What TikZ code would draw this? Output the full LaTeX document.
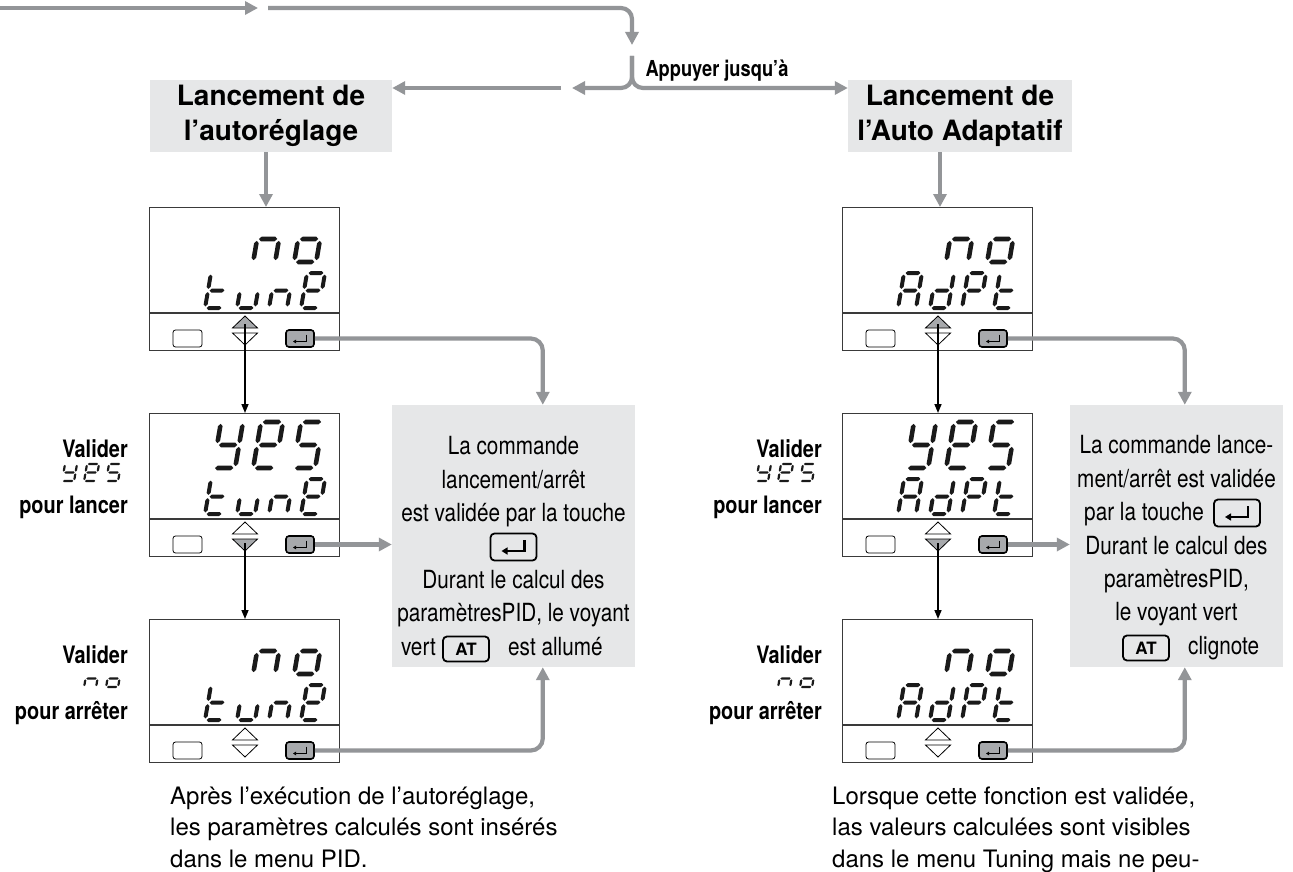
\documentclass[tikz,border=0pt]{standalone}
\usepackage{fontspec}
\setmainfont{TeX Gyre Heros}
\newfontfamily\condfont{TeX Gyre Heros}[FakeStretch=0.83]
\usetikzlibrary{arrows.meta}

\definecolor{arrowgray}{HTML}{939598}
\definecolor{panelgray}{HTML}{E6E7E8}
\definecolor{keygray}{HTML}{A7A9AC}
\definecolor{framegray}{HTML}{3A3A3A}
\definecolor{seggray}{HTML}{1A1A1A}

% seven-segment glyphs in a unit cell: x 0..1, y 0 (top) .. 1 (bottom)
\def\digN{0/0.5/1/0.5,0/0.5/0/1,1/0.5/1/1}
\def\digO{0/0.5/1/0.5,0/0.5/0/1,1/0.5/1/1,0/1/1/1}
\def\digT{0/0/0/0.5,0/0.5/0/1,0/0.5/1/0.5,0/1/1/1}
\def\digU{0/0.5/0/1,1/0.5/1/1,0/1/1/1}
\def\digE{0/0/1/0,1/0/1/0.5,0/0/0/0.5,0/0.5/1/0.5,0/0.5/0/1,0/1/1/1}
\def\digY{0/0/0/0.5,1/0/1/0.5,0/0.5/1/0.5,1/0.5/1/1,0/1/1/1}
\def\digS{0/0/1/0,0/0/0/0.5,0/0.5/1/0.5,1/0.5/1/1,0/1/1/1}
\def\digA{0/0/1/0,1/0/1/0.5,1/0.5/1/1,0/0/0/0.5,0/0.5/0/1,0/0.5/1/0.5}
\def\digD{1/0/1/0.5,1/0.5/1/1,0/1/1/1,0/0.5/0/1,0/0.5/1/0.5}
\def\digP{0/0/1/0,1/0/1/0.5,0/0/0/0.5,0/0.5/1/0.5,0/0.5/0/1}

% one slanted seven-segment character: left, top, width, height, thickness, glyph
% every segment is a hexagon with pointed ends
\newcommand{\sevenseg}[6]{%
  \begin{scope}[shift={(#1,#2)},xslant=0.17]
    \foreach \xa/\ya/\xb/\yb in #6 {
      \pgfmathsetmacro\pxa{\xa*#3}\pgfmathsetmacro\pya{\ya*#4}
      \pgfmathsetmacro\pxb{\xb*#3}\pgfmathsetmacro\pyb{\yb*#4}
      \pgfmathsetmacro\seglen{abs(\pxb-\pxa)+abs(\pyb-\pya)}
      \pgfmathsetmacro\ux{(\pxb-\pxa)/\seglen}
      \pgfmathsetmacro\uy{(\pyb-\pya)/\seglen}
      \pgfmathsetmacro\seghw{#5/2}
      \pgfmathsetmacro\seggap{#5*0.4}
      \fill[seggray]
        ({\pxa+\ux*\seggap},{\pya+\uy*\seggap})
        -- ({\pxa+\ux*(\seggap+\seghw)-\uy*\seghw},{\pya+\uy*(\seggap+\seghw)+\ux*\seghw})
        -- ({\pxb-\ux*(\seggap+\seghw)-\uy*\seghw},{\pyb-\uy*(\seggap+\seghw)+\ux*\seghw})
        -- ({\pxb-\ux*\seggap},{\pyb-\uy*\seggap})
        -- ({\pxb-\ux*(\seggap+\seghw)+\uy*\seghw},{\pyb-\uy*(\seggap+\seghw)-\ux*\seghw})
        -- ({\pxa+\ux*(\seggap+\seghw)+\uy*\seghw},{\pya+\uy*(\seggap+\seghw)-\ux*\seghw})
        -- cycle;
    }
  \end{scope}}

% controller front panel: name, left, top, up-key fill, down-key fill
\newcommand{\meterpanel}[5]{%
  \node[dispframe,anchor=north west] (#1) at (#2,#3) {};
  \draw[displine] (#2,#3+106) -- (#2+190,#3+106);
  \node[softkey] (#1-m) at (#2+38.5,#3+131.5) {};
  \node[enterkey] (#1-k) at (#2+151,#3+131.5) {};
  \draw[line width=1pt,-{Triangle[width=3.5pt,length=3pt]}]
    ([shift={(6,-4)}]#1-k.center) -- ([shift={(6,3)}]#1-k.center) -- ([shift={(-7,3)}]#1-k.center);
  \draw[arrowkey,fill=#4] (#2+83.5,#3+121) -- (#2+108.5,#3+121) -- (#2+96,#3+109) -- cycle;
  \draw[arrowkey,fill=#5] (#2+83.5,#3+126) -- (#2+108.5,#3+126) -- (#2+96,#3+138) -- cycle;
  \coordinate (#1-u) at (#2+96,#3+117);
  \coordinate (#1-d) at (#2+96,#3+130);
}

\tikzset{
  garrow/.style={draw=arrowgray,line width=4.2pt,-{Triangle[width=13pt,length=13pt]}},
  karrow/.style={draw=black,line width=1.5pt,-{Triangle[width=7pt,length=9pt]}},
  hdr/.style={fill=panelgray,align=center,inner sep=0,
    font=\fontsize{28}{35}\selectfont\bfseries},
  infobox/.style={fill=panelgray,inner sep=0},
  infotext/.style={font=\condfont\fontsize{25}{33}\selectfont,inner sep=0,anchor=base},
  sidelabel/.style={font=\condfont\bfseries\fontsize{24}{28}\selectfont,inner sep=0,anchor=base east},
  bodytext/.style={font=\fontsize{24}{31}\selectfont,inner sep=0,anchor=base west},
  dispframe/.style={draw=framegray,line width=1.2pt,minimum width=190pt,minimum height=143pt,inner sep=0},
  displine/.style={draw=framegray,line width=1.2pt},
  softkey/.style={draw=black,line width=0.8pt,rounded corners=2.5pt,fill=white,
    minimum width=29pt,minimum height=17pt,inner sep=0},
  enterkey/.style={draw=black,line width=1.6pt,rounded corners=3pt,fill=keygray,
    minimum width=28pt,minimum height=17pt,inner sep=0},
  arrowkey/.style={draw=black,line width=0.8pt},
  bigkey/.style={draw=black,line width=1.8pt,rounded corners=4pt,
    minimum width=46pt,minimum height=27pt,inner sep=0},
  atkey/.style={bigkey,minimum height=25pt,font=\fontsize{17}{17}\selectfont\bfseries},
}

\begin{document}
\begin{tikzpicture}[x=1pt,y=-1pt]
\useasboundingbox[fill=white] (0,0) rectangle (1293,872);

% headers and explanation panels
\node[hdr,minimum width=242pt,minimum height=72pt] (h1) at (271,116) {Lancement de\\l’autoréglage};
\node[hdr,minimum width=224pt,minimum height=72pt] (h2) at (960,116) {Lancement de\\l’Auto Adaptatif};
\node[infobox,minimum width=243pt,minimum height=262pt] (ib1) at (513.5,536) {};
\node[infobox,minimum width=213pt,minimum height=262pt] (ib2) at (1176.5,536) {};

% incoming flow and the fork
\coordinate (in0) at (0,8);
\coordinate (in1) at (258,8);
\coordinate (t2s) at (268,8);
\coordinate (t2e) at (632,45);
\coordinate (fk) at (632,56);
\coordinate (fl) at (572,88);
\coordinate (ls) at (561,88);
\draw[garrow] (in0) -- (in1);
\draw[garrow,rounded corners=11pt] (t2s) -| (t2e);
\draw[garrow,rounded corners=11pt] (fk) |- (fl);
\draw[garrow,rounded corners=11pt] (fk) |- (h2.west |- fl);
\draw[garrow] (ls) -- (ls -| h1.east);
\node[font=\condfont\bfseries\fontsize{22}{26}\selectfont,inner sep=0,anchor=base] (push) at (717,77) {Appuyer jusqu’à};

% front panels
\meterpanel{d1}{149}{207}{keygray}{white}
\meterpanel{d2}{149}{413}{white}{keygray}
\meterpanel{d3}{149}{619}{white}{white}
\meterpanel{r1}{842}{207}{keygray}{white}
\meterpanel{r2}{842}{413}{white}{keygray}
\meterpanel{r3}{842}{619}{white}{white}

% display readings, left column
\sevenseg{261}{216}{22}{46}{4.6}{\digN}
\sevenseg{302}{216}{22}{46}{4.6}{\digO}
\sevenseg{211}{273}{18}{35}{4}{\digT}
\sevenseg{243}{273}{18}{35}{4}{\digU}
\sevenseg{275}{273}{18}{35}{4}{\digN}
\sevenseg{307}{273}{18}{35}{4}{\digE}
\sevenseg{221}{422}{22}{46}{4.6}{\digY}
\sevenseg{261}{422}{22}{46}{4.6}{\digE}
\sevenseg{301}{422}{22}{46}{4.6}{\digS}
\sevenseg{211}{479}{18}{35}{4}{\digT}
\sevenseg{243}{479}{18}{35}{4}{\digU}
\sevenseg{275}{479}{18}{35}{4}{\digN}
\sevenseg{307}{479}{18}{35}{4}{\digE}
\sevenseg{261}{628}{22}{46}{4.6}{\digN}
\sevenseg{302}{628}{22}{46}{4.6}{\digO}
\sevenseg{211}{685}{18}{35}{4}{\digT}
\sevenseg{243}{685}{18}{35}{4}{\digU}
\sevenseg{275}{685}{18}{35}{4}{\digN}
\sevenseg{307}{685}{18}{35}{4}{\digE}

% display readings, right column
\sevenseg{954}{216}{22}{46}{4.6}{\digN}
\sevenseg{995}{216}{22}{46}{4.6}{\digO}
\sevenseg{904}{273}{18}{35}{4}{\digA}
\sevenseg{936}{273}{18}{35}{4}{\digD}
\sevenseg{968}{273}{18}{35}{4}{\digP}
\sevenseg{1000}{273}{18}{35}{4}{\digT}
\sevenseg{914}{422}{22}{46}{4.6}{\digY}
\sevenseg{954}{422}{22}{46}{4.6}{\digE}
\sevenseg{994}{422}{22}{46}{4.6}{\digS}
\sevenseg{904}{479}{18}{35}{4}{\digA}
\sevenseg{936}{479}{18}{35}{4}{\digD}
\sevenseg{968}{479}{18}{35}{4}{\digP}
\sevenseg{1000}{479}{18}{35}{4}{\digT}
\sevenseg{954}{628}{22}{46}{4.6}{\digN}
\sevenseg{995}{628}{22}{46}{4.6}{\digO}
\sevenseg{904}{685}{18}{35}{4}{\digA}
\sevenseg{936}{685}{18}{35}{4}{\digD}
\sevenseg{968}{685}{18}{35}{4}{\digP}
\sevenseg{1000}{685}{18}{35}{4}{\digT}

% side captions
\node[sidelabel] (v2) at (128,457) {Valider};
\sevenseg{65}{464}{12}{17}{2.2}{\digY}
\sevenseg{87}{464}{12}{17}{2.2}{\digE}
\sevenseg{109}{464}{12}{17}{2.2}{\digS}
\node[sidelabel] (p2) at (128,513) {pour lancer};
\node[sidelabel] (v3) at (128,663) {Valider};
\sevenseg{87}{670}{12}{17}{2.2}{\digN}
\sevenseg{109}{670}{12}{17}{2.2}{\digO}
\node[sidelabel] (p3) at (128,719) {pour arrêter};

\node[sidelabel] (w2) at (822,457) {Valider};
\sevenseg{759}{464}{12}{17}{2.2}{\digY}
\sevenseg{781}{464}{12}{17}{2.2}{\digE}
\sevenseg{803}{464}{12}{17}{2.2}{\digS}
\node[sidelabel] (q2) at (822,513) {pour lancer};
\node[sidelabel] (w3) at (822,663) {Valider};
\sevenseg{781}{670}{12}{17}{2.2}{\digN}
\sevenseg{803}{670}{12}{17}{2.2}{\digO}
\node[sidelabel] (q3) at (822,719) {pour arrêter};

% gray flow arrows
\draw[garrow] ([xshift=-5pt]h1.south) -- ([xshift=-5pt]h1.south |- d1.north);
\draw[garrow] ([xshift=-20pt]h2.south) -- ([xshift=-20pt]h2.south |- r1.north);
\draw[garrow,rounded corners=12pt] (d1-k.east) -| ([xshift=151pt]ib1.north west);
\draw[garrow] (d2-k.east) -- (d2-k.east -| ib1.west);
\draw[garrow,rounded corners=12pt] (d3-k.east) -| ([xshift=151pt]ib1.south west);
\draw[garrow,rounded corners=12pt] (r1-k.east) -| ([xshift=115pt]ib2.north west);
\draw[garrow] (r2-k.east) -- (r2-k.east -| ib2.west);
\draw[garrow,rounded corners=12pt] (r3-k.east) -| ([xshift=115pt]ib2.south west);

% key sequence arrows
\draw[karrow] (d1-u) -- (d1-u |- d2.north);
\draw[karrow] (d2-d) -- (d2-d |- d3.north);
\draw[karrow] (r1-u) -- (r1-u |- r2.north);
\draw[karrow] (r2-d) -- (r2-d |- r3.north);

% explanation text, left
\node[infotext] (la1) at (513.5,454) {La commande};
\node[infotext] (la2) at (513.5,488) {lancement/arrêt};
\node[infotext] (la3) at (513.5,521) {est validée par la touche};
\node[bigkey] (ik1) at (513.5,547) {};
\draw[line width=2.2pt,-{Triangle[width=7pt,length=6pt]}]
  ([shift={(11,-7)}]ik1.center) -- ([shift={(11,4)}]ik1.center) -- ([shift={(-12,4)}]ik1.center);
\node[infotext] (la4) at (513.5,588) {Durant le calcul des};
\node[infotext] (la5) at (513.5,621) {paramètresPID, le voyant};
\node[infotext,anchor=base east] (la6) at (436,655) {vert};
\node[atkey] (at1) at (466,649) {AT};
\node[infotext,anchor=base west] (la7) at (508,655) {est allumé};

% explanation text, right
\node[infotext] (ra1) at (1176.5,453) {La commande lance-};
\node[infotext] (ra2) at (1176.5,487) {ment/arrêt est validée};
\node[infotext,anchor=base west] (ra3) at (1084,520) {par la touche};
\node[bigkey] (ik2) at (1237,513) {};
\draw[line width=2.2pt,-{Triangle[width=7pt,length=6pt]}]
  ([shift={(11,-7)}]ik2.center) -- ([shift={(11,4)}]ik2.center) -- ([shift={(-12,4)}]ik2.center);
\node[infotext] (ra4) at (1176.5,554) {Durant le calcul des};
\node[infotext] (ra5) at (1176.5,587) {paramètresPID,};
\node[infotext] (ra6) at (1176.5,620) {le voyant vert};
\node[atkey] (at2) at (1146,648) {AT};
\node[infotext,anchor=base west] (ra7) at (1188,654) {clignote};

% notes under the panels
\node[bodytext] (b1) at (170,804) {Après l’exécution de l’autoréglage,};
\node[bodytext] (b2) at (170,835.5) {les paramètres calculés sont insérés};
\node[bodytext] (b3) at (170,867) {dans le menu PID.};
\node[bodytext] (c1) at (832,804) {Lorsque cette fonction est validée,};
\node[bodytext] (c2) at (832,835.5) {las valeurs calculées sont visibles};
\node[bodytext] (c3) at (832,867) {dans le menu Tuning mais ne peu-};
\end{tikzpicture}
\end{document}
